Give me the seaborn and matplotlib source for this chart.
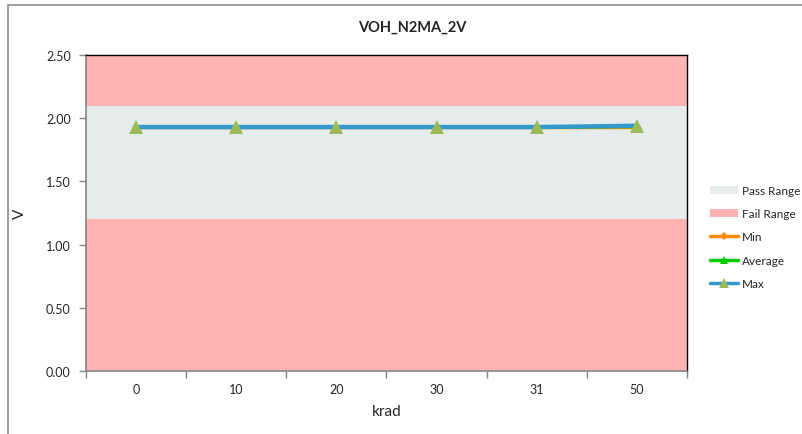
import matplotlib.pyplot as plt
import numpy as np
import pandas as pd
import seaborn as sns
from matplotlib.patches import Patch, Rectangle
from matplotlib.lines import Line2D

# Chart values.
krad = ["0", "10", "20", "30", "31", "50"]
v_min = [1.93, 1.93, 1.93, 1.93, 1.93, 1.93]
v_avg = [1.93, 1.93, 1.93, 1.93, 1.93, 1.935]
v_max = [1.93, 1.93, 1.93, 1.93, 1.93, 1.94]
pass_low, pass_high = 1.20, 2.10
y_min, y_max = 0.0, 2.50
y_ticks = [0.0, 0.5, 1.0, 1.5, 2.0, 2.5]

sns.set_theme(style="white")
plt.rcParams["font.family"] = ["Lato", "DejaVu Sans"]

fail_color = "#FFB3B3"
pass_color = "#E6ECEC"

df = pd.DataFrame(
    {"pos": np.arange(len(krad)), "Min": v_min, "Average": v_avg, "Max": v_max}
)

fig = plt.figure(figsize=(8.03, 4.35), dpi=100)
ax = fig.add_axes([86 / 803, 63 / 435, 601 / 803, 316 / 435])

# Pass / fail bands.
ax.axhspan(y_min, pass_low, color=fail_color, lw=0, zorder=0)
ax.axhspan(pass_low, pass_high, color=pass_color, lw=0, zorder=0)
ax.axhspan(pass_high, y_max, color=fail_color, lw=0, zorder=0)

sns.lineplot(data=df, x="pos", y="Min", ax=ax, color="#FF8C00", lw=2.5,
             marker="D", markersize=4, markeredgewidth=0, zorder=3)
sns.lineplot(data=df, x="pos", y="Average", ax=ax, color="#00CC00", lw=2.5,
             marker="^", markersize=6, markeredgewidth=0, zorder=4)
sns.lineplot(data=df, x="pos", y="Max", ax=ax, color="#3399CC", lw=3.2,
             marker="^", markersize=10, markerfacecolor="#9BBB59",
             markeredgewidth=0, zorder=5)

ax.set_xlim(-0.5, len(krad) - 0.5)
ax.set_ylim(y_min, y_max)
ax.set_yticks(y_ticks)
ax.set_yticklabels([f"{t:.2f}" for t in y_ticks], fontsize=9)
ax.set_xticks(np.arange(-0.5, len(krad)), labels=[])
ax.set_xticks(np.arange(len(krad)), labels=krad, minor=True)
ax.tick_params(axis="x", which="major", direction="out", length=5,
               color="#868686", width=1, bottom=True)
ax.tick_params(axis="x", which="minor", length=0, labelsize=9, pad=9)
ax.tick_params(axis="y", direction="out", length=5, color="#868686",
               width=1, left=True, pad=6)

for side in ["left", "bottom"]:
    ax.spines[side].set_color("#868686")
    ax.spines[side].set_linewidth(1.2)
for side in ["top", "right"]:
    ax.spines[side].set_color("black")
    ax.spines[side].set_linewidth(1.0)
ax.spines["bottom"].set_zorder(6)

ax.set_xlabel("krad", fontsize=11, labelpad=6)
ax.set_ylabel("V", fontsize=11, labelpad=14)
fig.text(412 / 803, 1 - 28 / 435, "VOH_N2MA_2V", ha="center", va="center",
         fontsize=10.5, fontweight="bold")

handles = [
    Patch(facecolor=pass_color, edgecolor="none", label="Pass Range"),
    Patch(facecolor=fail_color, edgecolor="none", label="Fail Range"),
    Line2D([], [], color="#FF8C00", lw=2.5, marker="D", markersize=4,
           markeredgewidth=0, label="Min"),
    Line2D([], [], color="#00CC00", lw=2.5, marker="^", markersize=6,
           markeredgewidth=0, label="Average"),
    Line2D([], [], color="#3399CC", lw=2.5, marker="^", markersize=7,
           markerfacecolor="#9BBB59", markeredgewidth=0, label="Max"),
]
fig.legend(handles=handles, loc="center left",
           bbox_to_anchor=(710 / 803, 1 - 238 / 435), frameon=False,
           fontsize=8.5, handlelength=2.4, handletextpad=0.3,
           labelspacing=1.03, borderaxespad=0, borderpad=0)

# Outer chart border.
fig.patches.append(Rectangle((8 / 803, -0.02), 1.1, 1 - 6 / 435 + 0.02,
                             transform=fig.transFigure, fill=False,
                             edgecolor="#8C8C8C", lw=1.2))

fig.savefig("out.png", dpi=100)
